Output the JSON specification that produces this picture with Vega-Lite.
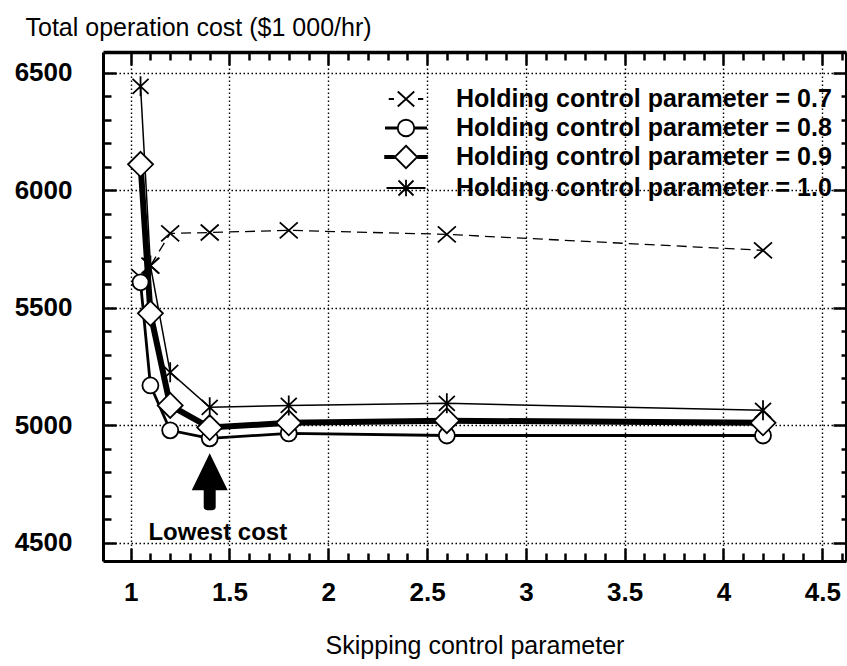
{
  "$schema": "https://vega.github.io/schema/vega-lite/v6.json",
  "width": 743,
  "height": 509,
  "autosize": {"type": "none"},
  "padding": {"left": 103, "top": 52, "right": 1, "bottom": 105},
  "background": "white",
  "config": {"view": {"stroke": null}},
  "datasets": {
    "cost": [
      {"series": "0.7", "x": 1.05, "y": 5630},
      {"series": "0.7", "x": 1.1, "y": 5680},
      {"series": "0.7", "x": 1.2, "y": 5817},
      {"series": "0.7", "x": 1.4, "y": 5821},
      {"series": "0.7", "x": 1.8, "y": 5830},
      {"series": "0.7", "x": 2.6, "y": 5813},
      {"series": "0.7", "x": 4.2, "y": 5745},
      {"series": "0.8", "x": 1.05, "y": 5609},
      {"series": "0.8", "x": 1.1, "y": 5170},
      {"series": "0.8", "x": 1.2, "y": 4979},
      {"series": "0.8", "x": 1.4, "y": 4945},
      {"series": "0.8", "x": 1.8, "y": 4966},
      {"series": "0.8", "x": 2.6, "y": 4957},
      {"series": "0.8", "x": 4.2, "y": 4957},
      {"series": "0.9", "x": 1.05, "y": 6111},
      {"series": "0.9", "x": 1.1, "y": 5477},
      {"series": "0.9", "x": 1.2, "y": 5085},
      {"series": "0.9", "x": 1.4, "y": 4991},
      {"series": "0.9", "x": 1.8, "y": 5011},
      {"series": "0.9", "x": 2.6, "y": 5020},
      {"series": "0.9", "x": 4.2, "y": 5011},
      {"series": "1.0", "x": 1.05, "y": 6443},
      {"series": "1.0", "x": 1.1, "y": 5680},
      {"series": "1.0", "x": 1.2, "y": 5226},
      {"series": "1.0", "x": 1.4, "y": 5077},
      {"series": "1.0", "x": 1.8, "y": 5085},
      {"series": "1.0", "x": 2.6, "y": 5094},
      {"series": "1.0", "x": 4.2, "y": 5064}
    ]
  },
  "data": {"name": "cost"},
  "resolve": {
    "axis": {"x": "independent", "y": "independent"},
    "scale": {"shape": "independent"},
    "legend": {"shape": "independent"}
  },
  "layer": [
    {
      "transform": [{"filter": "datum.series === '0.7'"}],
      "mark": {"type": "line", "color": "black", "strokeWidth": 1.3, "strokeDash": [10, 6]},
      "encoding": {
        "x": {
          "field": "x", "type": "quantitative",
          "scale": {"domain": [0.86, 4.62], "nice": false, "zero": false},
          "axis": {
            "orient": "bottom",
            "values": [1,1.1,1.2,1.3,1.4,1.5,1.6,1.7,1.8,1.9,2,2.1,2.2,2.3,2.4,2.5,2.6,2.7,2.8,2.9,3,3.1,3.2,3.3,3.4,3.5,3.6,3.7,3.8,3.9,4,4.1,4.2,4.3,4.4,4.5,4.6],
            "domainColor": "black", "domainWidth": 3,
            "tickColor": "black", "tickWidth": 2.5,
            "tickSize": {"condition": {"test": "abs(datum.value*2 - round(datum.value*2)) < 0.001", "value": -13}, "value": -8},
            "grid": true, "gridColor": "black", "gridWidth": 1.4, "gridDash": [1.5, 2.5],
            "gridOpacity": {"condition": {"test": "abs(datum.value*2 - round(datum.value*2)) < 0.001", "value": 1}, "value": 0},
            "labelExpr": "abs(datum.value*2 - round(datum.value*2)) < 0.001 ? '' + datum.value : ''",
            "labelFont": "Liberation Sans", "labelFontSize": 26, "labelFontWeight": "bold", "labelColor": "black",
            "labelPadding": 31, "labelOverlap": false, "labelFlush": false, "labelBound": false,
            "title": "Skipping control parameter",
            "titleFont": "Liberation Sans", "titleFontSize": 25, "titleFontWeight": "normal", "titleColor": "black",
            "titleY": 92, "titleBaseline": "alphabetic"
          }
        },
        "y": {
          "field": "y", "type": "quantitative",
          "scale": {"domain": [4423, 6589], "nice": false, "zero": false},
          "axis": {
            "orient": "left",
            "values": [4500,4600,4700,4800,4900,5000,5100,5200,5300,5400,5500,5600,5700,5800,5900,6000,6100,6200,6300,6400,6500],
            "domainColor": "black", "domainWidth": 3,
            "tickColor": "black", "tickWidth": 2.5,
            "tickSize": {"condition": {"test": "datum.value % 500 === 0", "value": -13}, "value": -8},
            "grid": true, "gridColor": "black", "gridWidth": 1.4, "gridDash": [1.5, 2.5],
            "gridOpacity": {"condition": {"test": "datum.value % 500 === 0", "value": 1}, "value": 0},
            "labelExpr": "datum.value % 500 === 0 ? '' + datum.value : ''",
            "labelFont": "Liberation Sans", "labelFontSize": 26, "labelFontWeight": "bold", "labelColor": "black",
            "labelPadding": 44, "labelOverlap": false, "labelFlush": false, "labelBound": false,
            "title": "Total operation cost ($1 000/hr)",
            "titleFont": "Liberation Sans", "titleFontSize": 25, "titleFontWeight": "normal", "titleColor": "black",
            "titleAngle": 0, "titleAlign": "left", "titleBaseline": "alphabetic", "titleX": -78, "titleY": -17
          }
        }
      }
    },
    {
      "transform": [{"filter": "datum.series === '0.8'"}],
      "mark": {"type": "line", "color": "black", "strokeWidth": 2.8},
      "encoding": {
        "x": {"field": "x", "type": "quantitative", "scale": {"domain": [0.86, 4.62], "nice": false, "zero": false}, "axis": null},
        "y": {"field": "y", "type": "quantitative", "scale": {"domain": [4423, 6589], "nice": false, "zero": false}, "axis": null}
      }
    },
    {
      "transform": [{"filter": "datum.series === '0.9'"}],
      "mark": {"type": "line", "color": "black", "strokeWidth": 6},
      "encoding": {
        "x": {"field": "x", "type": "quantitative", "scale": {"domain": [0.86, 4.62], "nice": false, "zero": false}, "axis": null},
        "y": {"field": "y", "type": "quantitative", "scale": {"domain": [4423, 6589], "nice": false, "zero": false}, "axis": null}
      }
    },
    {
      "transform": [{"filter": "datum.series === '1.0'"}],
      "mark": {"type": "line", "color": "black", "strokeWidth": 1.5},
      "encoding": {
        "x": {"field": "x", "type": "quantitative", "scale": {"domain": [0.86, 4.62], "nice": false, "zero": false}, "axis": null},
        "y": {"field": "y", "type": "quantitative", "scale": {"domain": [4423, 6589], "nice": false, "zero": false}, "axis": null}
      }
    },
    {
      "mark": {"type": "point", "fill": "white", "stroke": "black", "strokeWidth": 1.8, "size": 400, "opacity": 1},
      "encoding": {
        "x": {"field": "x", "type": "quantitative", "scale": {"domain": [0.86, 4.62], "nice": false, "zero": false}, "axis": null},
        "y": {"field": "y", "type": "quantitative", "scale": {"domain": [4423, 6589], "nice": false, "zero": false}, "axis": null},
        "shape": {
          "field": "series", "type": "nominal",
          "scale": {
            "domain": ["0.7", "0.8", "0.9", "1.0"],
            "range": [
              "M-0.9,-0.8L0.9,0.8M-0.9,0.8L0.9,-0.8",
              "M-0.8,0A0.8,0.8,0,1,0,0.8,0A0.8,0.8,0,1,0,-0.8,0Z",
              "M0,-1.25L1.25,0L0,1.25L-1.25,0Z",
              "M0,-1L0,1M-0.8,-0.75L0.8,0.75M-0.8,0.75L0.8,-0.75"
            ]
          },
          "legend": null
        }
      }
    },
    {
      "mark": {"type": "point", "fill": "white", "stroke": "black", "strokeWidth": 1.8, "size": 900, "opacity": 0},
      "encoding": {
        "x": {"field": "x", "type": "quantitative", "scale": {"domain": [0.86, 4.62], "nice": false, "zero": false}, "axis": null},
        "y": {"field": "y", "type": "quantitative", "scale": {"domain": [4423, 6589], "nice": false, "zero": false}, "axis": null},
        "shape": {
          "field": "series", "type": "nominal",
          "scale": {
            "domain": ["0.7", "0.8", "0.9", "1.0"],
            "range": [
              "M-1.15,0L-0.8,0M0.8,0L1.15,0M-0.55,-0.5L0.55,0.5M-0.55,0.5L0.55,-0.5",
              "M-1.4,-0.035L-0.55,-0.035M-1.4,0.035L-0.55,0.035M0.55,-0.035L1.4,-0.035M0.55,0.035L1.4,0.035M-0.55,0A0.55,0.55,0,1,0,0.55,0A0.55,0.55,0,1,0,-0.55,0Z",
              "M-1.45,-0.08L-0.75,-0.08M-1.45,0L-0.75,0M-1.45,0.08L-0.75,0.08M0.75,-0.08L1.45,-0.08M0.75,0L1.45,0M0.75,0.08L1.45,0.08M0,-0.75L0.75,0L0,0.75L-0.75,0Z",
              "M-1.3,0L1.3,0M0,-0.55L0,0.55M-0.5,-0.5L0.5,0.5M-0.5,0.5L0.5,-0.5"
            ]
          },
          "legend": {
            "orient": "none", "legendX": 287, "legendY": 31, "padding": 0,
            "title": null, "symbolSize": 900, "labelOffset": 34, "rowPadding": 0,
            "symbolOpacity": 1, "symbolStrokeWidth": 1.8,
            "labelFont": "Liberation Sans", "labelFontSize": 25, "labelFontWeight": "bold", "labelColor": "black",
            "labelLimit": 600, "labelBaseline": "middle",
            "labelExpr": "'Holding control parameter = ' + datum.label"
          }
        }
      }
    },
    {
      "data": {"values": [{}]},
      "mark": {"type": "text", "text": "Lowest cost", "align": "left", "baseline": "alphabetic", "font": "Liberation Sans", "fontSize": 24, "fontWeight": "bold", "color": "black"},
      "encoding": {
        "x": {
          "datum": 1.09, "type": "quantitative",
          "scale": {"domain": [0.86, 4.62], "nice": false, "zero": false},
          "axis": {
            "orient": "top", "title": null, "labels": false, "grid": false,
            "values": [1,1.1,1.2,1.3,1.4,1.5,1.6,1.7,1.8,1.9,2,2.1,2.2,2.3,2.4,2.5,2.6,2.7,2.8,2.9,3,3.1,3.2,3.3,3.4,3.5,3.6,3.7,3.8,3.9,4,4.1,4.2,4.3,4.4,4.5,4.6],
            "domainColor": "black", "domainWidth": 3.5,
            "tickColor": "black", "tickWidth": 2.5,
            "tickSize": {"condition": {"test": "abs(datum.value*2 - round(datum.value*2)) < 0.001", "value": -13}, "value": -8}
          }
        },
        "y": {
          "datum": 4511, "type": "quantitative",
          "scale": {"domain": [4423, 6589], "nice": false, "zero": false},
          "axis": {
            "orient": "right", "title": null, "labels": false, "grid": false,
            "values": [4500,4600,4700,4800,4900,5000,5100,5200,5300,5400,5500,5600,5700,5800,5900,6000,6100,6200,6300,6400,6500],
            "domainColor": "black", "domainWidth": 3,
            "tickColor": "black", "tickWidth": 2.5,
            "tickSize": {"condition": {"test": "datum.value % 500 === 0", "value": -13}, "value": -5}
          }
        }
      }
    },
    {
      "data": {"values": [{}]},
      "mark": {"type": "point", "shape": "M0,-1L0.63,0.3L0.21,0.3L0.21,0.9Q0.21,1 0,1Q-0.21,1 -0.21,0.9L-0.21,0.3L-0.63,0.3Z", "size": 3249, "filled": true, "color": "black", "opacity": 1},
      "encoding": {
        "x": {"datum": 1.4, "type": "quantitative", "scale": {"domain": [0.86, 4.62], "nice": false, "zero": false}, "axis": null},
        "y": {"datum": 4760, "type": "quantitative", "scale": {"domain": [4423, 6589], "nice": false, "zero": false}, "axis": null}
      }
    }
  ]
}
